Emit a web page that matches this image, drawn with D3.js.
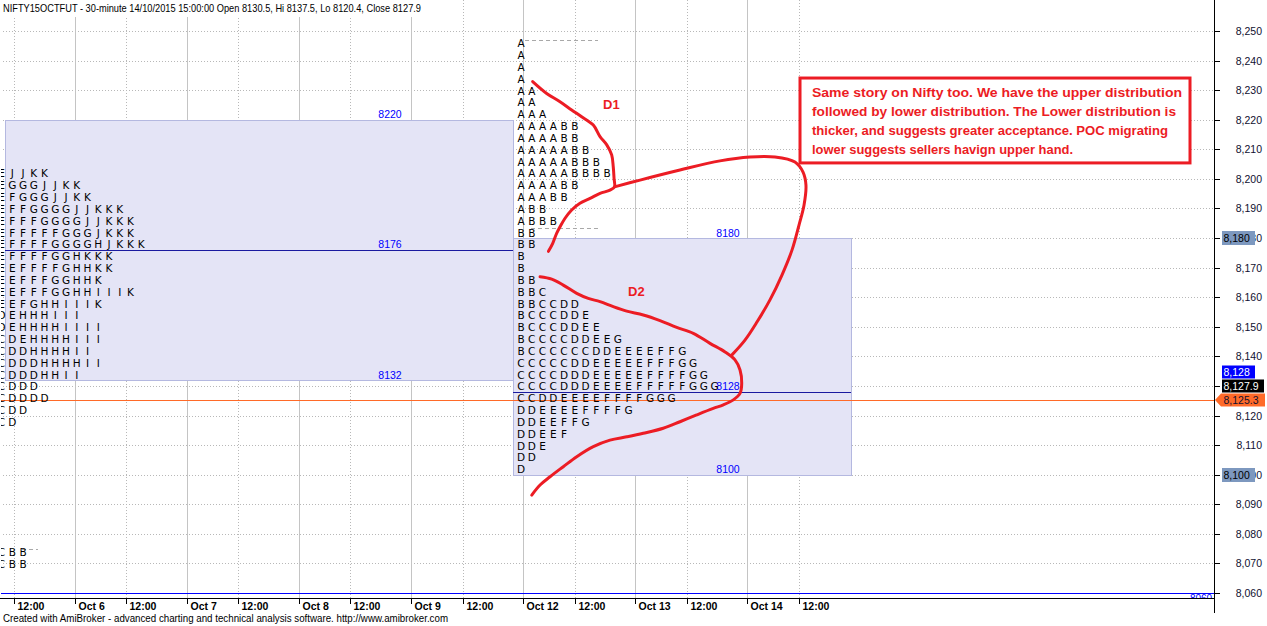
<!DOCTYPE html>
<html><head><meta charset="utf-8">
<script src="https://cdn.jsdelivr.net/npm/d3@7/dist/d3.min.js"></script>
<style>body{margin:0;background:#fff;overflow:hidden}svg{display:block}</style>
</head><body><svg id="c" width="1267" height="626"></svg>
<script>
// ---------------- DATA ----------------
const titleText = "NIFTY15OCTFUT - 30-minute 14/10/2015 15:00:00 Open 8130.5, Hi 8137.5, Lo 8120.4, Close 8127.9";
const footerText = "Created with AmiBroker - advanced charting and technical analysis software. http://www.amibroker.com";
// session days: index 0 = Oct 5 ... 7 = Oct 14
const dayLabels = ["Oct 5","Oct 6","Oct 7","Oct 8","Oct 9","Oct 12","Oct 13","Oct 14"];
const noonLabel = "12:00";
const priceTicks = d3.range(8060, 8251, 10);
const tpoStep = 4;

// left (earlier) profile, first row price and rows (time-ordered letters)
const leftProfileTop = 8202;
const leftProfileRows = ["EJJKK","EGGGJJKK","EFGGGJJKK","EFFGGGGJJKKK","EFFFGGGGJJKKK","EFFFFFGGGJKKK",
  "EFFFFGGGGHJKKK","EFFFFGGHKKK","EEFFFFGHHKK","EEFFFGGHHK","EEFFFGGHHIIIK","EEFGHHIIIK",
  "DEHHHIII","DEHHHHIIII","CDEHHHHIII","CDDHHHHII","CDDDHHHHII","CDDDHHII","CDDD","CDDDD","CDD","CD"];
const lowProfileTop = 8074;
const lowProfileRows = ["CBB","CBB"];
// Oct 12-14 profile
const rightProfileTop = 8246;
const rightProfileRows = ["A","A","A","A","AA","AA","AAA","AAAABB","AAAABB","AAAAABB","AAAAABBB","AAAAABBBB",
  "AAAABB","AAABB","ABB","ABBB","BB","BB","B","B","BB","BBC","BBCCDD","BCCCDDE","BCCCDDEE","BCCCCDDEEG",
  "BCCCCCCDDEEEEFFG","CCCCCDDEEEEEFFFGG","CCCCDDDEEEEEFFFFGG","CCCCDDDEEEEFFFFFGGG","CCDDEEEEFFFFGGG",
  "DDEEEEFFFFG","DDEEFFG","DDEEF","DDE","DD","D"];
const profileStartDays = [0.349, 4.983];

// value areas (from day, to day, high, POC, low)
const vaFrom = [0.38, 4.912];
const vaTo = [4.912, 7.927];
const vaHigh = [8220, 8180];
const vaPoc = [8176, 8128];
const vaLow = [8132, 8100];

// dashed range markers [fromDay, toDay, price]
const dashMarks = [[5.019, 5.670, 8247], [5.072, 5.670, 8183.5], [0.532, 0.674, 8075]];

const lastPrice = 8125.3;
const bottomLevel = 8060;
const axisHighlights = [8180, 8100];
const markerValues = [8128, 8127.9, 8125.3];
const markerLabels = ["8,128", "8,127.9", "8,125.3"];

// freehand annotation strokes, [day, price]
const strokeD1 = [[5.087,8232.9],[5.212,8228.9],[5.331,8226.1],[5.435,8223.3],[5.524,8221.0],[5.628,8218.2],
  [5.688,8214.3],[5.748,8211.5],[5.792,8208.1],[5.806,8204.1],[5.813,8200.2],[5.817,8197.3],
  [5.777,8196.2],[5.688,8195.1],[5.599,8193.4],[5.509,8191.8],[5.435,8189.5],[5.376,8186.7],
  [5.331,8183.8],[5.301,8181.6],[5.266,8178.2],[5.228,8175.5]];
const strokeLink = [[5.817,8197.3],[6.045,8199.6],[6.401,8203.0],[6.758,8206.1],[7.026,8207.4],[7.249,8207.4],
  [7.427,8205.7],[7.499,8202.3],[7.525,8197.9],[7.508,8191.2],[7.463,8184.4],[7.401,8176.0],[7.311,8167.5],
  [7.204,8159.1],[7.088,8151.6],[6.981,8145.5],[6.865,8140.5]];
const strokeD2 = [[5.153,8166.9],[5.257,8166.1],[5.360,8164.1],[5.480,8161.3],[5.583,8159.6],[5.688,8158.5],
  [5.806,8156.8],[5.926,8155.3],[6.074,8154.0],[6.223,8152.1],[6.372,8149.8],[6.520,8147.8],[6.669,8144.4],
  [6.803,8141.5],[6.892,8138.8],[6.937,8135.4],[6.952,8130.9],[6.937,8127.5],[6.877,8125.3],[6.788,8123.6],
  [6.698,8122.4],[6.550,8120.2],[6.401,8117.9],[6.252,8115.7],[6.074,8114.0],[5.926,8112.8],[5.777,8111.7],
  [5.628,8109.5],[5.480,8106.1],[5.360,8102.7],[5.242,8099.3],[5.153,8096.5],[5.079,8093.1]];
const strokeLabels = ["D1","D2"];
const strokeLabelPos = [[5.715,8225.3],[5.938,8162.1]];
const noteLines = ["Same story on Nifty too. We have the upper distribution",
  "followed by lower distribution. The Lower distribution is",
  "thicker, and suggests greater acceptance. POC migrating",
  "lower suggests sellers havign upper hand."];
const noteBox = [7.472, 10.951, 8234.1, 8205.4];

// ---------------- LAYOUT ----------------
const W = 1267, H = 626;
const plotR = 1214, plotB = 598;
const x = d3.scaleLinear().domain([0, 1]).range([-37.6, 74.5]);
const y = d3.scaleLinear().domain([8060, 8250]).range([593, 31]);
const crisp = v => Math.round(v) + 0.5;
const svg = d3.select("#c");
const F = "'Liberation Sans', Arial, sans-serif";

svg.append("defs").append("clipPath").attr("id", "plot")
  .append("rect").attr("x", 1).attr("y", 0).attr("width", plotR - 1).attr("height", plotB);
const plot = svg.append("g").attr("clip-path", "url(#plot)");

// grid
plot.append("g").selectAll("line").data(priceTicks).join("line")
  .attr("x1", 0).attr("x2", plotR).attr("y1", d => crisp(y(d))).attr("y2", d => crisp(y(d)))
  .attr("stroke", "#b8b8b8").attr("stroke-dasharray", "1,2");
const days = d3.range(dayLabels.length);
plot.append("g").selectAll("line").data(days.slice(1)).join("line")
  .attr("x1", d => crisp(x(d))).attr("x2", d => crisp(x(d))).attr("y1", 0).attr("y2", plotB)
  .attr("stroke", "#c4c4c4");
plot.append("g").selectAll("line").data(days).join("line")
  .attr("x1", d => crisp(x(d + 6 / 13))).attr("x2", d => crisp(x(d + 6 / 13))).attr("y1", 0).attr("y2", plotB)
  .attr("stroke", "#b8b8b8").attr("stroke-dasharray", "1,2");

// value area boxes
const va = vaFrom.map((f, i) => ({ f, t: vaTo[i], hi: vaHigh[i], poc: vaPoc[i], lo: vaLow[i] }));
plot.append("g").selectAll("rect").data(va).join("rect")
  .attr("x", d => Math.round(x(d.f)) + 0.5).attr("width", d => Math.round(x(d.t)) - Math.round(x(d.f)))
  .attr("y", d => crisp(y(d.hi))).attr("height", d => Math.round(y(d.lo)) - Math.round(y(d.hi)))
  .attr("fill", "#e4e4f6").attr("stroke", "#b4b8e0");
plot.append("g").selectAll("line").data(va).join("line")
  .attr("x1", d => x(d.f)).attr("x2", d => x(d.t)).attr("y1", d => crisp(y(d.poc))).attr("y2", d => crisp(y(d.poc)))
  .attr("stroke", "#1a1aa0");
// last price & bottom level lines
plot.append("line").attr("x1", 0).attr("x2", plotR).attr("y1", crisp(y(lastPrice))).attr("y2", crisp(y(lastPrice)))
  .attr("stroke", "#ff6a28");
plot.append("line").attr("x1", 0).attr("x2", plotR).attr("y1", crisp(y(bottomLevel))).attr("y2", crisp(y(bottomLevel)))
  .attr("stroke", "#0000ff");
plot.append("text").attr("x", x(vaTo[1]) + 350).attr("y", y(bottomLevel) + 9).attr("text-anchor", "middle")
  .attr("font-family", F).attr("font-size", 10).attr("fill", "#0000ff").text(String(bottomLevel));

// dashed markers
plot.append("g").selectAll("line").data(dashMarks).join("line")
  .attr("x1", d => x(d[0])).attr("x2", d => x(d[1])).attr("y1", d => crisp(y(d[2]))).attr("y2", d => crisp(y(d[2])))
  .attr("stroke", "#a8a8a8").attr("stroke-dasharray", "4,3");

// value area labels
const vaLabels = [];
va.forEach(d => [d.hi, d.poc, d.lo].forEach(v => vaLabels.push({ x: x(d.t) - 123, v })));
plot.append("g").selectAll("text").data(vaLabels).join("text")
  .attr("x", d => d.x).attr("y", d => y(d.v) - 1.5).attr("text-anchor", "middle")
  .attr("font-family", F).attr("font-size", 10.5).attr("fill", "#0000ff").text(d => d.v);

// TPO letters
const colW = 10.75;
function drawProfile(rows, top, startDay) {
  const cells = [];
  rows.forEach((r, k) => r.split("").forEach((ch, j) => cells.push({ ch, j, p: top - tpoStep * k })));
  plot.append("g").selectAll("text").data(cells).join("text")
    .attr("x", d => x(startDay) + colW * d.j).attr("y", d => y(d.p) + 4.5)
    .attr("text-anchor", "middle").attr("font-family", "'DejaVu Sans', Verdana, sans-serif")
    .attr("font-size", 10.5).attr("fill", "#000").text(d => d.ch);
}
drawProfile(leftProfileRows, leftProfileTop, profileStartDays[0]);
drawProfile(lowProfileRows, lowProfileTop, profileStartDays[0]);
drawProfile(rightProfileRows, rightProfileTop, profileStartDays[1]);

// freehand strokes
const line = d3.line().x(d => x(d[0])).y(d => y(d[1])).curve(d3.curveCatmullRom);
plot.append("g").selectAll("path").data([strokeD1, strokeLink, strokeD2]).join("path")
  .attr("d", line).attr("fill", "none").attr("stroke", "#ec1c24").attr("stroke-width", 3)
  .attr("stroke-linecap", "round").attr("stroke-linejoin", "round");
plot.append("g").selectAll("text").data(strokeLabels).join("text")
  .attr("x", (d, i) => x(strokeLabelPos[i][0])).attr("y", (d, i) => y(strokeLabelPos[i][1]) + 5)
  .attr("font-family", F).attr("font-weight", "bold").attr("font-size", 13).attr("fill", "#ec1c24").text(d => d);

// note box
const nbx = x(noteBox[0]), nbx2 = x(noteBox[1]), nby = y(noteBox[2]), nby2 = y(noteBox[3]);
plot.append("rect").attr("x", nbx).attr("y", nby).attr("width", nbx2 - nbx).attr("height", nby2 - nby)
  .attr("fill", "#fff").attr("stroke", "#ec1c24").attr("stroke-width", 3);
const noteWidths = [370, 364, 356, 261];
plot.append("g").selectAll("text").data(noteLines).join("text")
  .attr("x", nbx + 12).attr("y", (d, i) => nby + 19 + 19 * i)
  .attr("font-family", F).attr("font-weight", "bold").attr("font-size", 12).attr("fill", "#ec1c24")
  .attr("textLength", (d, i) => noteWidths[i]).attr("lengthAdjust", "spacingAndGlyphs").text(d => d);

// title
svg.append("rect").attr("x", 0).attr("y", 0).attr("width", 424).attr("height", 17).attr("fill", "#fff");
svg.append("text").attr("x", 3).attr("y", 12).attr("font-family", F).attr("font-size", 11).attr("fill", "#000")
  .attr("textLength", 418).attr("lengthAdjust", "spacingAndGlyphs").text(titleText);

// x axis
svg.append("line").attr("x1", 0).attr("x2", plotR).attr("y1", plotB + 0.5).attr("y2", plotB + 0.5).attr("stroke", "#000");
const xt = [];
days.forEach(d => { if (d > 0) xt.push({ v: d, t: dayLabels[d] }); xt.push({ v: d + 6 / 13, t: noonLabel }); });
const xg = svg.append("g").selectAll("g").data(xt).join("g").attr("transform", d => `translate(${crisp(x(d.v))},${plotB})`);
xg.append("line").attr("y1", 1).attr("y2", 6).attr("stroke", "#000");
xg.append("text").attr("x", 3).attr("y", 12).attr("font-family", F).attr("font-weight", "bold")
  .attr("font-size", 10.5).attr("fill", "#000").text(d => d.t);

// footer
svg.append("text").attr("x", 3).attr("y", 622).attr("font-family", F).attr("font-size", 10).attr("fill", "#000")
  .attr("textLength", 445).attr("lengthAdjust", "spacingAndGlyphs").text(footerText);

// right axis
svg.append("line").attr("x1", plotR + 0.5).attr("x2", plotR + 0.5).attr("y1", 0).attr("y2", 613).attr("stroke", "#000");
const ya = svg.append("g").selectAll("g").data(priceTicks).join("g").attr("transform", d => `translate(0,${crisp(y(d))})`);
ya.append("line").attr("x1", plotR).attr("x2", plotR + 6).attr("stroke", "#000");
const fmt = d3.format(",");
ya.append("text").attr("x", 1262).attr("dy", "0.35em").attr("text-anchor", "end").attr("font-family", F)
  .attr("font-size", 10.5).attr("fill", "#101030").text(d => fmt(d));

// axis highlights
const ah = svg.append("g").selectAll("g").data(axisHighlights).join("g").attr("transform", d => `translate(0,${Math.round(y(d))})`);
ah.append("rect").attr("x", 1222).attr("y", -7).attr("width", 33).attr("height", 14).attr("fill", "#7d98bf");
ah.append("text").attr("x", 1223.5).attr("dy", "0.35em").attr("font-family", F).attr("font-size", 10.5)
  .attr("fill", "#000").text(d => fmt(d));

// stacked price markers
const mk = markerValues.map((v, i) => ({ v, label: markerLabels[i], i })).sort((a, b) => a.v - b.v);
let prev = Infinity;
mk.forEach(m => { m.cy = Math.min(y(m.v), prev - 14); prev = m.cy; });
const mFill = ["#0000ff", "#000000", "#ff6a28"], mText = ["#fff", "#fff", "#101030"], mW = [33, 42, 43];
const mg = svg.append("g").selectAll("g").data(mk).join("g").attr("transform", d => `translate(0,${Math.round(d.cy)})`);
mg.append("path").attr("d", d => d.i === 2
  ? "M1215,0 L1221,-6.5 L1265,-6.5 L1265,6.5 L1221,6.5 Z"
  : `M1222,-6.5 h${mW[d.i]} v13 h-${mW[d.i]} Z`).attr("fill", d => mFill[d.i]);
mg.append("text").attr("x", 1223.5).attr("dy", "0.35em").attr("font-family", F).attr("font-size", 10.5)
  .attr("fill", d => mText[d.i]).text(d => d.label);
</script></body></html>
